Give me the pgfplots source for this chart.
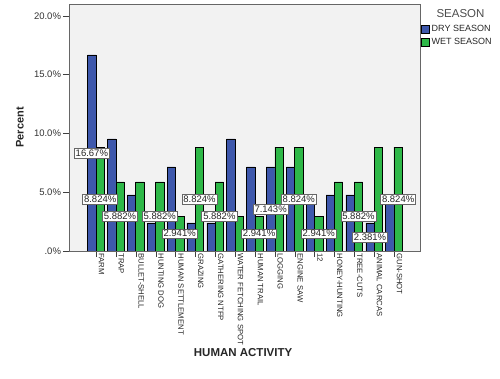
\documentclass[border=0pt]{standalone}
\usepackage{pgfplots}
\pgfplotsset{compat=1.18}
\usepackage{pgfplotstable}
\usepackage{fontspec}
\setmainfont{Liberation Sans}
\definecolor{dryc}{RGB}{62,88,172}
\definecolor{wetc}{RGB}{46,184,72}

\pgfplotstableread{
x dry wet
0 16.667 8.824
1 9.524 5.882
2 4.762 5.882
3 2.381 5.882
4 7.143 2.941
5 2.381 8.824
6 2.381 5.882
7 9.524 2.941
8 7.143 2.941
9 7.143 8.824
10 7.143 8.824
11 4.762 2.941
12 4.762 5.882
13 4.762 5.882
14 2.381 8.824
15 4.762 8.824
}\datatable

\pgfplotstableread{
x y label
-0.21 8.333 16.67
0.21 4.412 8.824
1.21 2.941 5.882
3.21 2.941 5.882
4.21 1.471 2.941
5.21 4.412 8.824
6.21 2.941 5.882
8.21 1.471 2.941
8.79 3.571 7.143
10.21 4.412 8.824
11.21 1.471 2.941
13.21 2.941 5.882
13.79 1.190 2.381
15.21 4.412 8.824
}\labeltable

\begin{document}
\begin{tikzpicture}
\begin{axis}[
  name=ax,
  scale only axis,
  width=351pt, height=247pt,
  xmin=-1.36, xmax=16.31,
  ymin=0, ymax=21,
  axis background/.style={fill=black!5},
  axis line style={black!60},
  tick pos=left,
  tick align=outside,
  major tick length=6pt,
  tick style={black!75},
  xtick={0,...,15},
  xticklabels={FARM,TRAP,BULLET-SHELL,HUNTING DOG,HUMAN SETTLEMENT,GRAZING,GATHERING NTFP,WATER FETCHING SPOT,HUMAN TRAIL,LOGGING,ENGINE SAW,12,HONEY-HUNTING,TREE-CUTS,ANIMAL CARCAS,GUN-SHOT},
  xticklabel style={rotate=-90, anchor=west, font=\fontsize{7.7}{8}\selectfont, text=black!85, xshift=-7pt, yshift=5.5pt},
  ytick={0,5,10,15,20},
  yticklabels={.0\%,5.0\%,10.0\%,15.0\%,20.0\%},
  yticklabel style={font=\fontsize{9.5}{10}\selectfont, text=black!80, xshift=1.5pt},
  xlabel={HUMAN ACTIVITY},
  xlabel style={at={(axis description cs:0.496,-0.413)}, anchor=center, font=\bfseries\fontsize{11.5}{12}\selectfont, text=black!85},
  ylabel={Percent},
  ylabel style={at={(axis description cs:-0.1396,0.5)}, anchor=center, font=\bfseries\fontsize{11}{12}\selectfont, text=black!85},
  legend style={at={(1,1)}, anchor=north west, xshift=1pt, yshift=-19pt, draw=none, fill=none,
    font=\fontsize{9}{10}\selectfont, row sep=1.5pt, inner sep=0pt, text=black!85},
  legend cell align=left,
  legend image code/.code={\draw[#1] (0pt,-4pt) rectangle (8pt,4pt);},
]
\addplot[ybar, bar width=0.42, bar shift=-0.21, fill=dryc, draw=black, line width=0.5pt] table[x=x,y=dry]{\datatable};
\addlegendentry{DRY SEASON}
\addplot[ybar, bar width=0.42, bar shift=0.21, fill=wetc, draw=black, line width=0.5pt] table[x=x,y=wet]{\datatable};
\addlegendentry{WET SEASON}
\addplot[only marks, mark=none, point meta=explicit symbolic,
  nodes near coords={\pgfplotspointmeta\%},
  nodes near coords align={center},
  every node near coord/.style={anchor=center, draw=black!60, fill=white, line width=0.6pt,
    font=\fontsize{9.5}{10}\selectfont, text=black!85, inner xsep=1.5pt, inner ysep=1.5pt}]
  table[x=x,y=y,meta=label]{\labeltable};
\end{axis}
\node[anchor=west, font=\fontsize{11.5}{12}\selectfont, text=black!70] at ([xshift=13pt,yshift=-10pt]ax.north east) {SEASON};
\pgfresetboundingbox
\path[use as bounding box] ([xshift=-69pt,yshift=-128pt]ax.south west) rectangle ([xshift=80pt,yshift=4pt]ax.north east);
\end{tikzpicture}
\end{document}
